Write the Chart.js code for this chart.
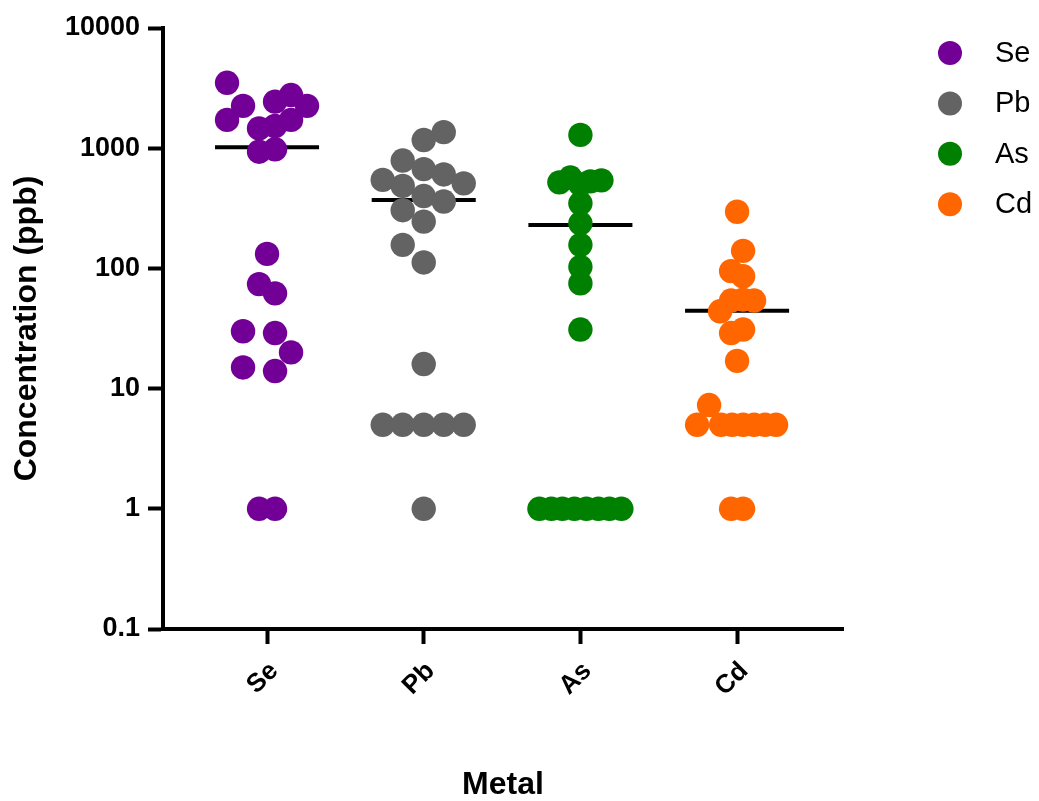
<!DOCTYPE html>
<html>
<head>
<meta charset="utf-8">
<script src="https://cdn.jsdelivr.net/npm/chart.js@4"></script>
<style>
  body { margin: 0; background: #fff; }
  canvas { display: block; }
</style>
</head>
<body>
<canvas id="metalChart" width="1039" height="801"></canvas>
<script>
// categories and colours
const metals = ['Se', 'Pb', 'As', 'Cd'];
const metalColors = ['#720096', '#636363', '#008000', '#ff6600'];
const yTicks = [0.1, 1, 10, 100, 1000, 10000];

// concentrations (ppb), with the horizontal scatter offset (px) of each dot
const seValues  = [3500, 2250, 1720, 2440, 2770, 2250, 1460, 1530, 1720, 935, 980, 132, 74, 62, 30, 29, 20, 15, 14, 1, 1];
const seOffsets = [-40, -24, -40, 8, 24, 40, -8, 8, 24, -8, 8, 0, -8, 8, -24, 8, 24, -24, 8, -8, 8];

const pbValues  = [1360, 1170, 790, 670, 605, 545, 510, 485, 400, 360, 305, 245, 157, 112, 16, 5, 5, 5, 5, 5, 1];
const pbOffsets = [20, 0, -21, 0, 20, -41, 40, -21, 0, 20, -21, 0, -21, 0, 0, -41, -21, 0, 20, 40, 0];

const asValues  = [1290, 520, 570, 500, 530, 540, 348, 237, 157, 103, 75, 31, 1, 1, 1, 1, 1, 1, 1, 1];
const asOffsets = [0, -21, -10, 0, 10, 21, 0, 0, 0, 0, 0, 0, -41, -29, -18, -6, 6, 18, 29, 41];

const cdValues  = [296, 140, 95, 86, 54, 55, 54, 44, 29, 31, 17, 7.3, 5, 5, 5, 5, 5, 5, 5, 1, 1];
const cdOffsets = [0, 6, -6, 6, -6, 6, 17, -17, -6, 6, 0, -28, -40, -16, -5, 6, 17, 28, 39, -6, 6];

const medians = [1017, 371, 230, 44.5];

const allValues = [seValues, pbValues, asValues, cdValues];
const allOffsets = [seOffsets, pbOffsets, asOffsets, cdOffsets];

const pxPerCategory = 156.7;
const medianHalfWidth = 0.332;
const fontFamily = '"Liberation Sans", Arial, Helvetica, sans-serif';

const datasets = [];
metals.forEach((metal, i) => {
    datasets.push({
        type: 'scatter',
        label: metal,
        data: allValues[i].map((v, k) => ({ x: i + allOffsets[i][k] / pxPerCategory, y: v })),
        backgroundColor: metalColors[i],
        borderWidth: 0,
        pointRadius: 12.2,
        pointHoverRadius: 12.2,
        order: 0
    });
});
metals.forEach((metal, i) => {
    datasets.push({
        type: 'line',
        label: metal + ' median',
        data: [{ x: i - medianHalfWidth, y: medians[i] }, { x: i + medianHalfWidth, y: medians[i] }],
        borderColor: '#000',
        borderWidth: 4,
        pointRadius: 0,
        fill: false,
        order: 1
    });
});

// legend drawn by hand so it sits where the original one is
const sideLegend = {
    id: 'sideLegend',
    afterDraw(chart) {
        const ctx = chart.ctx;
        ctx.save();
        metals.forEach((metal, i) => {
            const y = 53 + i * 50.4;
            ctx.beginPath();
            ctx.arc(950, y, 12, 0, Math.PI * 2);
            ctx.fillStyle = metalColors[i];
            ctx.fill();
            ctx.fillStyle = '#000';
            ctx.font = '29px ' + fontFamily;
            ctx.textBaseline = 'middle';
            ctx.textAlign = 'left';
            ctx.fillText(metal, 995, y + 1);
        });
        ctx.restore();
    }
};

const ctx = document.getElementById('metalChart').getContext('2d');
new Chart(ctx, {
    data: { datasets: datasets },
    plugins: [sideLegend],
    options: {
        responsive: false,
        devicePixelRatio: 1,
        animation: false,
        layout: { padding: { top: 28, right: 196, left: 0, bottom: 0 } },
        plugins: {
            legend: { display: false },
            tooltip: { enabled: false }
        },
        scales: {
            x: {
                type: 'linear',
                min: -0.664,
                max: 3.676,
                afterBuildTicks: scale => {
                    scale.ticks = metals.map((m, i) => ({ value: i }));
                },
                afterFit: scale => { scale.height = 172; },
                grid: {
                    drawOnChartArea: false,
                    drawTicks: true,
                    tickLength: 15,
                    tickWidth: 4,
                    tickColor: '#000'
                },
                border: { display: true, color: '#000', width: 4 },
                ticks: {
                    autoSkip: false,
                    minRotation: 45,
                    maxRotation: 45,
                    padding: 12,
                    labelOffset: 7,
                    color: '#000',
                    font: { family: fontFamily, size: 26, weight: 'bold' },
                    callback: v => metals[v]
                },
                title: {
                    display: true,
                    text: 'Metal',
                    color: '#000',
                    font: { family: fontFamily, size: 32, weight: 'bold' },
                    padding: { top: 0, bottom: -3 }
                }
            },
            y: {
                type: 'logarithmic',
                min: 0.1,
                max: 10000,
                afterBuildTicks: scale => {
                    scale.ticks = yTicks.map(v => ({ value: v }));
                },
                afterFit: scale => { scale.width = 163; },
                grid: {
                    drawOnChartArea: false,
                    drawTicks: true,
                    tickLength: 15,
                    tickWidth: 4,
                    tickColor: '#000'
                },
                border: { display: true, color: '#000', width: 4 },
                ticks: {
                    padding: 8,
                    color: '#000',
                    font: { family: fontFamily, size: 27, weight: 'bold' },
                    callback: v => String(v)
                },
                title: {
                    display: true,
                    text: 'Concentration (ppb)',
                    color: '#000',
                    font: { family: fontFamily, size: 32, weight: 'bold' },
                    padding: { top: 8, bottom: 0 }
                }
            }
        }
    }
});
</script>
</body>
</html>
